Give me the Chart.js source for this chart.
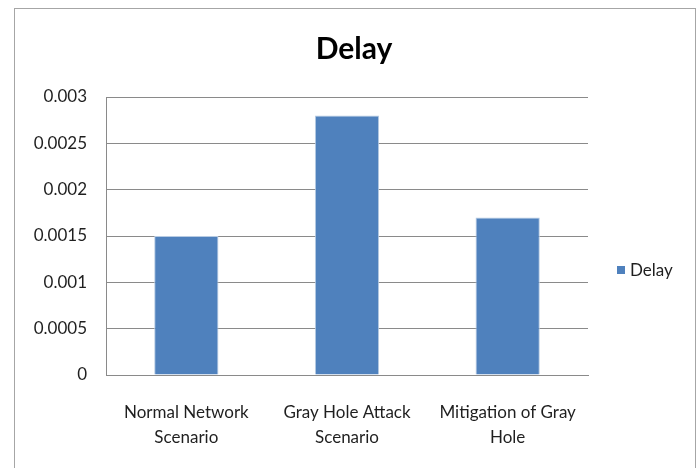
<!DOCTYPE html>
<html>
<head>
<meta charset="utf-8">
<title>Delay</title>
<script src="https://cdn.jsdelivr.net/npm/chart.js@4/dist/chart.umd.min.js"></script>
<style>
  html, body { margin: 0; padding: 0; background: #fff; }
  #wrap { width: 698px; height: 468px; }
</style>
</head>
<body>
<div id="wrap"><canvas id="c" width="698" height="468"></canvas></div>
<script>
// Scenario names (two-line labels) and measured delay values
const scenarios = [
  ['Normal Network', 'Scenario'],
  ['Gray Hole Attack', 'Scenario'],
  ['Mitigation of Gray', 'Hole']
];
const delayValues = [0.0015, 0.0028, 0.0017];
const yTickLabels = ['0', '0.0005', '0.001', '0.0015', '0.002', '0.0025', '0.003'];
const chartTitle = 'Delay';
const seriesName = 'Delay';

const FONT = 'Lato, "Open Sans", sans-serif';
const TEXT = '#1f1f1f';
const GRID = '#8a8a8a';
const BAR = '#4f81bd';

// Outer frame, title and legend drawn on the canvas
const decorations = {
  id: 'decorations',
  afterDraw(chart) {
    const ctx = chart.ctx;
    ctx.save();
    // frame
    ctx.strokeStyle = '#a6a6a6';
    ctx.lineWidth = 1;
    ctx.strokeRect(14.5, 8.5, 681, 470);
    // title
    ctx.fillStyle = '#000';
    ctx.font = 'bold 30px ' + FONT;
    ctx.textAlign = 'center';
    ctx.textBaseline = 'alphabetic';
    ctx.fillText(chartTitle, 354, 59);
    // legend
    const ds = chart.data.datasets[0];
    ctx.fillStyle = ds.backgroundColor;
    ctx.fillRect(617, 266, 8, 8);
    ctx.fillStyle = TEXT;
    ctx.font = '17px ' + FONT;
    ctx.textAlign = 'left';
    ctx.textBaseline = 'middle';
    ctx.fillText(ds.label, 630, 271);
    ctx.restore();
  }
};

new Chart(document.getElementById('c'), {
  type: 'bar',
  data: {
    labels: scenarios,
    datasets: [{
      label: seriesName,
      data: delayValues,
      backgroundColor: BAR,
      borderColor: '#b7cbe3',
      borderWidth: 1,
      categoryPercentage: 1,
      barPercentage: 0.4
    }]
  },
  options: {
    responsive: false,
    animation: false,
    layout: { padding: { left: 14, top: 97, right: 110, bottom: 0 } },
    plugins: {
      legend: { display: false },
      title: { display: false },
      tooltip: { enabled: false }
    },
    scales: {
      x: {
        afterFit(scale) { scale.height = 93; },
        grid: { display: false, drawTicks: false },
        border: { display: true, color: GRID, width: 1 },
        ticks: {
          color: TEXT,
          font: { family: FONT, size: 17, lineHeight: 1.47 },
          padding: 25,
          maxRotation: 0,
          autoSkip: false
        }
      },
      y: {
        min: 0,
        max: 0.003,
        afterFit(scale) { scale.width = 92; },
        grid: { color: GRID, lineWidth: 1, drawTicks: false },
        border: { display: true, color: GRID, width: 1 },
        ticks: {
          stepSize: 0.0005,
          color: TEXT,
          font: { family: FONT, size: 17 },
          padding: 19,
          callback: (v, i) => yTickLabels[i]
        }
      }
    }
  },
  plugins: [decorations]
});
</script>
</body>
</html>
